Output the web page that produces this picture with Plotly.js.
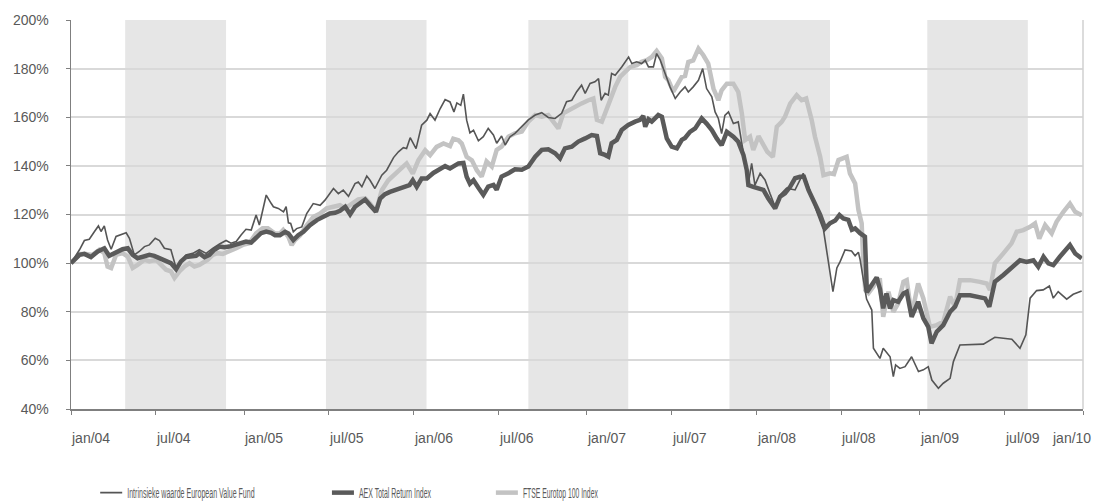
<!DOCTYPE html>
<html>
<head>
<meta charset="utf-8">
<script src="https://cdn.plot.ly/plotly-3.0.1.min.js"></script>
<style>
html,body{margin:0;padding:0;background:#fff;}
#chart{width:1102px;height:502px;}
/* the original legend uses a very condensed face: squeeze the labels horizontally */
#chart text.legendtext, #chart text.legend2text, #chart text.legend3text{
  transform-box:fill-box;transform-origin:0% 50%;opacity:0.99;
}
#chart text.legendtext{transform:scaleX(0.505);}
#chart text.legend2text{transform:scaleX(0.497);}
#chart text.legend3text{transform:scaleX(0.487);}
</style>
</head>
<body>
<div id="chart"></div>
<script>
// x = observation index (weekly points on a category axis, Jan 2004 = 0)
const tickIdx = [0, 26, 53, 79, 105, 131, 158, 184, 210, 236, 260, 286, 310];
const tickLabels = ["jan/04","jul/04","jan/05","jul/05","jan/06","jul/06","jan/07","jul/07","jan/08","jul/08","jan/09","jul/09","jan/10"];
const yTicks = [40, 60, 80, 100, 120, 140, 160, 180, 200];

// alternating shaded periods (observation index)
const bandStart = [16.6, 78.1, 140.1, 201.7, 262.3];
const bandEnd   = [47.5, 108.9, 170.7, 232.5, 293.1];

const seriesNames = ["Intrinsieke waarde European Value Fund", "AEX Total Return Index", "FTSE Eurotop 100 Index"];

const fundX = [0,1.5,2.6,4.1,5.6,7.2,8.4,9.2,10.2,11.2,12.3,13.8,15.3,16.9,17.9,19.4,20.9,22.5,24,25.8,27.1,28.6,30.6,31.4,32.2,33.7,35.2,37.3,39.3,41.4,43.4,45.5,47.5,49,50.6,52.1,53.6,55.2,56.7,57.7,59.8,61.3,62,63.5,65.1,65.9,66.6,67.3,68.1,69.1,70.7,72.2,74.2,76.3,77.8,80.4,81.9,83.4,85,87,88,89.1,90.6,91.6,93.1,95.2,96.7,98.8,100.3,101.8,102.8,103.9,105.7,107.4,109,110,111.5,113.1,114.6,116.1,117.3,118.2,119.4,120.2,121.2,122.2,123.3,124.8,126.3,127.8,129.4,130.4,131.9,133,134.5,136,138.1,140.1,142.2,144.2,146.2,148.3,150.3,151.8,153.4,154.9,156.4,157.5,159,160.5,161.6,162.4,163.6,164.6,165.6,166.7,168.7,169.7,170.8,171.8,173.3,174.8,175.9,176.9,178.4,179.4,180.5,182,183.5,185.1,186.6,188.1,189.1,190.6,192.2,193.5,194.7,196.3,197.3,198.3,199.3,200.3,201.4,202.9,204.4,206,207.5,208.5,209.5,211.1,212.6,214.1,215.7,217.2,219.2,221.8,224.3,225.9,228.4,230.5,231.5,232.5,233.4,234.6,235.6,237.1,239.1,240.2,241.2,241.7,243.7,245.3,245.8,247.8,248.8,250.9,251.9,252.6,253.9,255.5,257.5,259.6,261.1,262.6,263.7,265.7,267.2,269.3,270.3,272.3,279.5,283,288.2,290.7,292.5,293.8,295.8,297.8,299.7,300.9,302.4,305,307,309.6];
const fundY = [100,103,105.5,109.3,109.8,113,115.3,113,115.3,109.5,105.7,111,111.6,112.5,110.2,103.4,104.8,106.8,107.5,110.2,109.3,106.1,105.5,101.4,98,100.7,103.4,104,105.5,104,106.1,107.9,109.3,108.2,108.9,111.6,113.9,113.6,119.8,115.7,128,124.6,123.2,122.5,121.1,123.2,116.6,116.3,112.9,114.2,114.9,120.4,124.5,123.8,125.9,130.7,128.6,130,127.5,132.7,133.4,131.4,135.8,134.1,130.7,136.2,138.2,143.4,145.8,147.5,147.1,151.6,147.1,156.7,158.8,161.5,158.8,163.6,167.3,166.3,162.2,165.9,164.9,169.5,158.8,153.6,154.7,150.3,152,155.4,152.7,149.3,152.3,148.6,152,153.4,156.1,158.9,160.9,161.9,159.9,159.5,161.6,166.4,167,170.5,173.2,169.8,173.9,174.6,175.9,167,169.8,169.1,178,177.3,180.7,182.8,184.8,182.1,182.8,182.1,183.4,180.7,180.7,186.2,183.5,178,172.5,167.7,170.4,172.5,170.4,172.5,175.2,180,171.8,168.4,162.2,159.5,153.3,160.8,162.2,157.4,158.1,145.1,132.8,141,132.1,136.9,134.2,128.7,123.2,128,130.8,130.1,136.9,131.4,121.2,113.7,105.4,97.2,88.3,98,100.6,105.4,105,103,104.5,101.6,85.2,80.7,65,60.8,65,61.5,53.3,58.1,56.7,57.4,61.5,55.4,56.1,57.4,51.9,48.5,50.6,52.6,59.5,66.3,66.7,69.5,68.7,65,70.5,85.6,88.7,89,90.6,85.6,88.3,85.2,87.2,88.5];

const aexX = [0,2.6,4.1,6.1,8.2,10.2,11.7,13.3,15.8,17.4,18.9,20.4,22,24,25.5,27.1,29.1,30.6,32.2,33.7,35.2,36.8,38.3,39.3,40.9,42.4,43.9,45.5,47,48.5,50.1,51.6,53.6,55.2,56.7,58.2,59.8,61.3,62.5,64,65.6,66.6,68.1,69.6,71.2,73.2,75.3,77.3,79.3,80.9,82.4,84,85.5,87,88.5,90.1,91.6,93.4,94.7,96.2,97.7,99.8,101.8,103.7,104.7,105.9,107.4,109,111,113.1,114.6,116.1,117.7,118.7,120.2,121.2,122.2,123.3,124.8,126.3,127.8,129.4,130.4,131.9,134,136,138.1,140.1,142.2,144.2,146.2,148.3,149.8,151.3,153.4,155.4,157.5,159.5,161.1,162.1,163.6,164.6,165.6,167.2,168.7,170.7,172.8,174.3,175.3,175.9,176.9,177.9,179.9,181,182.5,184,185.6,187.1,188.1,189.6,191.2,193.2,194.7,196.3,197.8,199.3,200.9,202.9,204.4,206,207,207.5,209,210.6,212.1,213.6,215.7,217.2,218.7,220.3,221.8,223.3,224.5,225.9,227.4,229.5,231,232.5,234.1,235.4,236.6,238.1,239.2,240.2,241.7,243.2,243.8,245.3,246.8,247.8,248.8,249.8,250.9,251.9,253.4,255,256,257.5,259.5,261.1,262.6,263.6,265.2,267.2,269.3,270.8,272.3,275.4,278.4,280,281.3,283,285.6,288.1,290.7,292.7,294.8,296.3,297.9,299.4,300.9,302.9,304.5,306,307.6,309.6];
const aexY = [100,103.4,103.8,102.5,104.8,106.1,103,104.1,105.7,106.1,103.4,102,102.7,103.4,103,102,100.7,100,97.5,100.7,102.5,102.7,103,104.1,102.5,103.4,105.5,106.8,106.5,106.8,107.5,108.2,108.9,108.5,110.6,112.3,113,112.5,111.5,111.5,112.9,112.2,109.5,111.5,112.9,115.6,117.7,119,120.4,120.7,121.5,123.2,120.1,123.2,124.5,126.2,123.8,121.1,126.6,128.4,129.3,130.3,131.4,132.1,134.1,131.4,134.8,134.8,137.1,138.9,139.9,138.9,139.9,141,141.2,135.5,132.7,134.1,131,128.1,131.5,132.2,130.2,135.6,137,138.6,138.4,139.7,143.8,146.6,146.8,145.2,143.1,147.2,147.9,150,151.3,152.7,152.3,145.2,144.5,143.8,149.3,150.7,154.8,156.8,158.2,158.9,160.5,156.1,159.2,158.2,160.9,160.2,151.3,147.9,147.2,150.7,151.5,154,155.4,159.5,157.4,154.7,151.3,148.5,154,152,149.9,144.4,138.3,132.1,131.4,130.8,130.1,126.6,122.5,127.3,128.7,131.4,134.9,135.5,135.5,130.1,126,119.8,114.3,116.4,117.5,119.8,118.4,117.8,113.7,114.3,112.3,110.9,88,90.7,94.1,89.4,81.4,87.5,81.4,84.8,84.1,87.5,88.2,77.9,84.1,77.3,73.8,67,71.8,74.5,80,82.1,86.8,86.8,86.2,85.5,82.1,92.3,95.1,97.8,101.2,100.5,101.2,98.5,102.6,99.9,99.2,102.6,105.3,107.4,104,101.9];

const ftseX = [0,2.6,4.6,6.6,8.7,10.2,11.2,12.3,13.8,15.8,17.4,18.9,20.4,22.5,24,26,27.6,29.1,30.6,31.7,33.2,34.7,36.3,37.8,39.3,41.9,43.4,44.9,46.5,48.5,50.6,52.6,54.6,56.7,58.7,60.3,61.8,62.5,64,65,66.6,67.6,68.6,70.2,72.2,74.2,76.3,78.3,80.4,82.4,84,86,88,90.1,91.6,93.4,95.2,97.2,99.3,101.3,102.8,104.7,106.4,108.5,110,112,114.1,116.1,117.1,118.7,119.7,121.2,122.8,124.3,125.8,127.3,128.9,130.4,131.9,134,136,138.1,140.1,142.2,144.2,146.2,148.3,149.3,150.8,152.4,154.4,156.4,158.5,160,161.1,162.6,163.6,165.1,166.7,168.2,169.7,171.3,173.3,174.8,176.4,177.9,179.4,181,182,183,184.5,185.6,187.1,188.1,189.1,190.6,192.2,193.7,195.2,196.8,198.3,199.3,200.9,202.9,204.4,205.5,206.5,208,209,210.6,212.1,213.3,215,216.2,217.7,218.7,220.3,222.3,223.8,225.2,226.9,227.9,229.5,230.5,232.5,233.7,235.1,236.6,237.6,238.6,240.2,241.2,242.2,242.7,243.3,244.3,245.8,246.8,247.8,248.8,250.4,251.9,253.4,255,256,257.5,259.5,261.1,263.1,265.2,267.2,269.3,270.8,272.3,275.4,278.4,280.5,281.5,283,285.6,288.1,289.7,291.7,293.8,295.3,296.6,298.4,300.4,301.9,304,306,307.6,309.6];
const ftseY = [100,103.8,103.8,103.4,105.5,104.1,98.6,98,103.4,104.1,102.7,98,99.3,101.4,100.7,101.4,99.3,97.3,96.6,93.9,96.6,98.6,100,98.6,99.3,101.4,103.4,104.1,103.8,104.8,106.1,107.5,108.2,112.3,114.3,114.3,112.5,112.2,112.2,113.6,110.8,107.4,109.5,111.5,115.6,119,120.4,122.5,123.2,123.8,122.5,124.5,126.2,126.6,124.5,121.1,130,134.1,136.8,139.6,141,136.8,142.3,146.4,144.4,147.8,149.2,148.1,151.2,150.5,149.2,143.7,142.3,138.2,135.6,141.8,139.7,146.6,147.9,152,153.4,154.1,158.2,160.9,160.2,160.9,157.5,155.4,161.6,162.9,164.6,165.7,167,167.7,158.9,158.2,161.6,167,172.5,176.6,178.7,180.7,181.4,182.8,183.5,184.8,187.3,184.2,176.6,175.2,170.5,173.2,176.6,177,182.7,183.4,188.2,185.5,182.1,171.8,167,171.1,173.8,173.8,170.4,161.5,150.6,152,146.5,152.2,148.5,145.8,143.7,156.1,158.1,160.2,165.6,169.1,167,167.7,158.8,152,143.7,136.2,136.9,136.6,142.4,143.1,143.7,136.9,132.8,121.9,116.4,100,89,87.7,90.4,93.1,93,77.9,88.2,80,83.4,92.3,93,78.6,91.6,85.5,73.8,74.5,75.9,86.2,82.1,93,93,92.3,91.6,88.9,99.9,104,108.1,112.9,113.6,114.9,116.3,110.1,115.6,112.2,117,121.1,124.5,121.1,119.7];

const axisFont = {family: "Liberation Sans, Arial, sans-serif", size: 14, color: "#595959"};
const legFont = {family: "Liberation Sans, Arial, sans-serif", size: 14, color: "#595959"};

const traces = [
  {x: ftseX, y: ftseY, name: seriesNames[2], type: "scatter", mode: "lines", line: {color: "#c3c3c3", width: 4.5}, legend: "legend3", hoverinfo: "skip"},
  {x: aexX, y: aexY, name: seriesNames[1], type: "scatter", mode: "lines", line: {color: "#5a5a5a", width: 4.5}, legend: "legend2", hoverinfo: "skip"},
  {x: fundX, y: fundY, name: seriesNames[0], type: "scatter", mode: "lines", line: {color: "#555555", width: 1.6}, legend: "legend", hoverinfo: "skip"}
];

const shapes = bandStart.map((s, i) => ({
  type: "rect", xref: "x", yref: "paper", x0: s, x1: bandEnd[i], y0: 0, y1: 1,
  fillcolor: "#e6e6e6", line: {width: 0}, layer: "below"
}));
shapes.push({type: "line", xref: "paper", yref: "paper", x0: 1, x1: 1, y0: 0, y1: 1, line: {color: "#d0d0d0", width: 1.5}});

// x tick labels: each starts at its tick mark; the last one is kept inside the chart
const last = tickIdx.length - 1;
const annotations = tickIdx.map((v, i) => ({
  xref: "x", yref: "paper", x: v, y: 0, yanchor: "top",
  xanchor: i === last ? "right" : "left",
  xshift: i === last ? 10 : -2, yshift: -19,
  text: tickLabels[i], showarrow: false, font: axisFont
}));

const legBase = {orientation: "h", yanchor: "middle", xanchor: "left", y: -0.216, font: legFont, bgcolor: "rgba(0,0,0,0)", itemwidth: 30, tracegroupgap: 0};

const layout = {
  width: 1102, height: 502,
  margin: {l: 71, r: 19, t: 20, b: 93, autoexpand: false},
  paper_bgcolor: "#ffffff", plot_bgcolor: "#ffffff",
  showlegend: true,
  xaxis: {
    range: [0, 310], tickmode: "array", tickvals: tickIdx, showticklabels: false,
    ticks: "outside", ticklen: 4, tickwidth: 1, tickcolor: "#7f7f7f",
    showline: true, linecolor: "#7f7f7f", linewidth: 1.5,
    showgrid: false, zeroline: false, fixedrange: true
  },
  yaxis: {
    range: [40, 200], tickmode: "array", tickvals: yTicks, ticktext: yTicks.map(v => v + "%"),
    ticks: "outside", ticklen: 4, tickwidth: 1, tickcolor: "#7f7f7f",
    showline: true, linecolor: "#7f7f7f", linewidth: 1.5, ticklabelstandoff: 14,
    showgrid: true, gridcolor: "#d9d9d9", gridwidth: 2, zeroline: false,
    tickfont: axisFont, fixedrange: true
  },
  legend: Object.assign({}, legBase, {x: 0.016}),
  legend2: Object.assign({}, legBase, {x: 0.245}),
  legend3: Object.assign({}, legBase, {x: 0.407}),
  shapes: shapes,
  annotations: annotations
};

function shortenLegendLines(gd) {
  gd.querySelectorAll("g.legendlines path.js-line").forEach(p => p.setAttribute("d", "M13,0h22"));
}

const gdiv = document.getElementById("chart");
Plotly.newPlot(gdiv, traces, layout, {displayModeBar: false, staticPlot: true}).then(gd => {
  shortenLegendLines(gd);
  gd.on("plotly_afterplot", () => shortenLegendLines(gd));
});
</script>
</body>
</html>
